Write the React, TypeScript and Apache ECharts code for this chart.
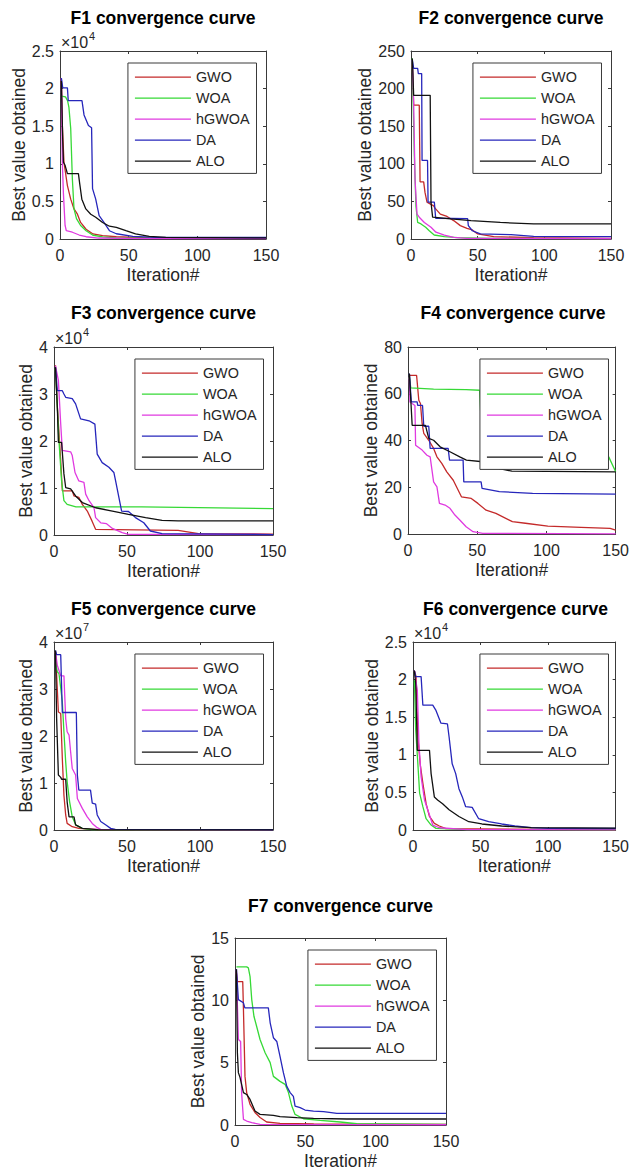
import React, { useEffect, useRef } from 'react';
import * as echarts from 'echarts';

// ---------- DATA ----------
const ALGORITHMS = ['GWO', 'WOA', 'hGWOA', 'DA', 'ALO'];
const TITLES = [
  'F1 convergence curve', 'F2 convergence curve', 'F3 convergence curve', 'F4 convergence curve',
  'F5 convergence curve', 'F6 convergence curve', 'F7 convergence curve',
];
const X_MAX = 150;
const X_INTERVAL = 50;
const Y_MAX = [2.5, 250, 4, 80, 4, 2.5, 15];
const Y_INTERVAL = [0.5, 50, 1, 20, 1, 0.5, 5];
const Y_EXPONENT = ['4', '', '4', '', '7', '4', ''];
const X_NAME = 'Iteration#';
const Y_NAME = 'Best value obtained';

// F1 (x1e4)
const F1_GWO = [[1, 2.13], [1.7, 1.51], [2.9, 1.02], [5.4, 0.71], [7.8, 0.53], [10.2, 0.4], [12.7, 0.33], [15, 0.22], [19, 0.13], [24, 0.067], [31, 0.044], [41, 0.03], [65, 0.013], [150, 0.01]];
const F1_WOA = [[1, 1.9], [4, 1.89], [5.5, 1.84], [6.5, 1.75], [7.8, 1.47], [9, 0.8], [10.2, 0.4], [12, 0.27], [15, 0.18], [19, 0.11], [24, 0.05], [31, 0.027], [41, 0.013], [150, 0.008]];
const F1_HGWOA = [[1, 2.14], [1.7, 1.02], [2.5, 0.6], [3.7, 0.18], [4.6, 0.11], [9, 0.09], [14, 0.053], [19, 0.03], [28, 0.013], [60, 0.006], [150, 0.004]];
const F1_DA = [[1, 2.14], [2, 2.01], [5.4, 2.01], [6, 1.84], [16, 1.84], [17.5, 1.65], [20.7, 1.51], [23, 1.48], [23.7, 0.67], [26, 0.53], [28.5, 0.31], [32, 0.22], [36, 0.11], [41, 0.07], [53, 0.035], [70, 0.022], [150, 0.02]];
const F1_ALO = [[1, 2.1], [2, 1.3], [2.5, 1.02], [3.7, 0.98], [5.4, 0.87], [13.4, 0.87], [14.4, 0.73], [15.9, 0.53], [18.8, 0.4], [22.4, 0.33], [26, 0.29], [31, 0.22], [36, 0.17], [41, 0.156], [48, 0.11], [55, 0.067], [65, 0.036], [77, 0.022], [150, 0.015]];

// F2
const F2_GWO = [[1, 232], [2, 178], [6.2, 178], [6.8, 76], [9.5, 76], [10.5, 62], [12, 49], [17, 44], [18, 41], [22, 33], [27, 30], [32, 24.5], [37, 17.8], [42, 14.2], [46, 12], [50, 6.7], [62, 3.1], [92, 1.8], [150, 0.9]];
const F2_WOA = [[1, 240], [2, 150], [2.5, 111], [3.7, 44], [5, 22], [7.5, 20], [11, 15.6], [13.7, 11], [17.4, 5.3], [25, 3.1], [35, 1.8], [60, 0.8], [150, 0.5]];
const F2_HGWOA = [[1, 238], [2, 180], [3, 80], [4.5, 33], [6.2, 29], [10, 22], [15, 15.6], [18.7, 9], [25, 5.3], [32, 2.2], [42, 0.9], [150, 0.3]];
const F2_DA = [[1, 238], [2, 227], [5, 227], [5.5, 220], [8, 220], [8.3, 104.5], [12.4, 104.5], [12.8, 49], [17.5, 49], [18.5, 27.6], [42.5, 27], [43, 17.8], [46, 11], [52, 6.7], [75, 5.8], [92, 3.6], [150, 3.1]];
const F2_ALO = [[1, 240], [2, 191], [14.4, 191], [15, 49], [16.2, 29], [30, 26.7], [45, 24.5], [67, 22], [92, 20], [150, 20]];

// F3 (x1e4)
const F3_GWO = [[1, 3.61], [2.3, 2.72], [4.6, 1.58], [5.7, 0.94], [12.5, 0.94], [13.7, 0.83], [17, 0.8], [19.4, 0.65], [22.8, 0.51], [26, 0.3], [28.5, 0.12], [85, 0.1], [99, 0.03], [150, 0.02]];
const F3_WOA = [[1, 3.54], [3.4, 2.0], [5.2, 1.15], [6.8, 0.73], [9, 0.65], [15, 0.6], [60, 0.6], [150, 0.56]];
const F3_HGWOA = [[1, 3.6], [3, 3.29], [4.6, 2.36], [5.7, 1.8], [11.4, 1.77], [12.5, 1.69], [14.4, 1.33], [17, 1.15], [20.5, 1.12], [21.7, 0.87], [24, 0.73], [27.4, 0.58], [28.5, 0.37], [32, 0.26], [36, 0.24], [40, 0.14], [46.7, 0.05], [51, 0.014], [150, 0.01]];
const F3_DA = [[1, 3.57], [2.3, 3.07], [5.7, 3.07], [6.8, 3.0], [8, 2.93], [12.5, 2.9], [14.8, 2.79], [18.2, 2.47], [24, 2.43], [28, 2.36], [29.6, 1.72], [33, 1.54], [37.6, 1.44], [41, 1.33], [42.2, 1.15], [46.3, 0.51], [51, 0.5], [55.8, 0.37], [61.5, 0.26], [66, 0.085], [74, 0.03], [150, 0.01]];
const F3_ALO = [[1, 3.57], [2.3, 2.72], [3, 1.97], [5.2, 1.97], [6.8, 1.3], [8, 1.01], [11.4, 0.98], [14.8, 0.83], [19.4, 0.69], [28.5, 0.58], [40, 0.51], [51, 0.44], [62.7, 0.37], [74, 0.31], [85, 0.3], [150, 0.3]];

// F4
const F4_GWO = [[1, 67.9], [6.2, 67.9], [7.8, 57.2], [9, 55.8], [10.2, 47.3], [11.4, 43], [15, 40.1], [18.5, 36.6], [20.9, 33], [24.4, 30.2], [28, 26.6], [32.7, 23], [38.6, 15.9], [45.7, 15.2], [50.5, 13.1], [56.4, 10.2], [63.5, 8.8], [75.4, 5.3], [84.8, 4.6], [101, 3.4], [125, 2.85], [146, 2.4], [150, 1.7]];
const F4_WOA = [[1, 67], [2, 62.5], [18.5, 62], [42, 61.8], [51.7, 61.5], [52.5, 52], [60, 48], [100, 42], [140, 36], [145, 33], [150, 26.6]];
const F4_HGWOA = [[1, 67], [1.4, 56.5], [3, 55.8], [5, 55], [5.5, 38], [10.2, 35.9], [13.7, 33.7], [16, 33], [18.5, 22.3], [20.9, 20.2], [22.7, 13.1], [26.8, 12.4], [30.3, 11], [33.9, 8.1], [37.4, 6], [42, 3.1], [47, 1], [54, 0.3], [150, 0.05]];
const F4_DA = [[1, 68.6], [2.4, 56.5], [6.6, 56.5], [7, 55], [10.5, 55], [11.4, 46.1], [15, 46.1], [16, 36.6], [29, 36.6], [30, 31.6], [39.8, 31.6], [40.3, 22.3], [52.8, 22.3], [53.5, 19.5], [66, 18.1], [90, 17.4], [150, 17.1]];
const F4_ALO = [[1, 68.6], [3, 46.5], [12.6, 46.5], [15, 40.9], [18.5, 40.1], [23.2, 37.3], [30.3, 35.2], [37.4, 33], [42.2, 31.6], [54, 30.9], [60, 29], [66, 28], [75, 26.9], [150, 26.6]];

// F5 (x1e7)
const F5_GWO = [[1, 3.79], [1.6, 3.43], [3, 2.51], [4.6, 2.48], [5.7, 1.52], [6.8, 0.74], [8, 0.32], [9, 0.14], [12.5, 0.07], [17, 0.035], [30, 0.01], [150, 0.002]];
const F5_WOA = [[1, 3.58], [2.3, 3.36], [3.4, 3.33], [5.7, 2.73], [6.8, 2.09], [8, 1.45], [9, 1.03], [10.7, 0.6], [12.5, 0.28], [14.8, 0.11], [19.4, 0.035], [26, 0.007], [150, 0.001]];
const F5_HGWOA = [[1, 3.79], [2.3, 3.5], [4.6, 3.28], [6.8, 3.28], [8, 2.37], [9, 2.09], [10.3, 2.02], [11.4, 1.66], [12.5, 1.31], [14.8, 1.17], [16, 0.67], [19.4, 0.46], [22.8, 0.28], [26.2, 0.14], [29.6, 0.05], [32, 0.014], [150, 0.003]];
const F5_DA = [[1, 3.82], [1.8, 3.73], [4.6, 3.73], [5.7, 2.5], [15.3, 2.5], [16, 1.17], [17, 0.85], [25, 0.85], [26.2, 0.57], [28.5, 0.55], [29.6, 0.32], [32, 0.18], [35.3, 0.11], [38.8, 0.035], [42, 0.014], [150, 0.005]];
const F5_ALO = [[1, 3.82], [1.8, 2.37], [3, 1.17], [4.6, 1.12], [5.2, 1.08], [8, 1.08], [9, 0.6], [10.3, 0.28], [13.7, 0.28], [14.8, 0.11], [19.4, 0.035], [30, 0.01], [150, 0.002]];

// F6 (x1e4)
const F6_GWO = [[1, 2.12], [2.3, 2.04], [3.6, 1.24], [5.3, 0.88], [7.3, 0.62], [9.7, 0.35], [12.2, 0.18], [15.8, 0.088], [19.5, 0.053], [24.3, 0.018], [150, 0.003]];
const F6_WOA = [[1, 1.99], [2, 1.33], [3.6, 0.88], [4.9, 0.49], [7.3, 0.31], [9.7, 0.15], [13.4, 0.066], [17, 0.022], [40, 0.005], [150, 0.002]];
const F6_HGWOA = [[1, 2.12], [3.2, 1.86], [4.4, 1.15], [6, 0.71], [8.5, 0.4], [12.2, 0.2], [14.6, 0.066], [19.5, 0.03], [40, 0.005], [150, 0.001]];
const F6_DA = [[1, 2.12], [2, 2.04], [6, 2.04], [7.3, 1.66], [14.6, 1.66], [17, 1.59], [20.7, 1.42], [25.5, 1.41], [26.7, 1.24], [29, 0.88], [31.6, 0.75], [34, 0.55], [36.5, 0.44], [39, 0.31], [43.8, 0.3], [48.6, 0.15], [56, 0.11], [65.6, 0.08], [75.4, 0.053], [87.5, 0.031], [100, 0.022], [150, 0.02]];
const F6_ALO = [[1, 2.12], [2, 1.95], [3.2, 1.06], [12.2, 1.06], [13.4, 0.75], [15.8, 0.44], [18.2, 0.4], [21.9, 0.35], [26.7, 0.27], [34, 0.18], [41.3, 0.11], [51, 0.08], [65.6, 0.053], [87.5, 0.031], [150, 0.025]];

// F7
const F7_GWO = [[1, 12.2], [1.7, 11.5], [5.5, 11.5], [6, 9.3], [7.1, 3.9], [8.3, 2.6], [10.7, 1.65], [14.2, 1.0], [17.8, 0.6], [22.5, 0.24], [32, 0.13], [56, 0.08], [150, 0.05]];
const F7_WOA = [[1, 12.68], [8.3, 12.68], [9.5, 12.6], [10.7, 11.9], [11.9, 10.06], [13.5, 8.7], [15.4, 7.9], [17.8, 6.86], [21.4, 5.8], [25, 5.0], [27.3, 3.9], [32, 3.5], [35.6, 3.26], [38, 2.6], [40.4, 1.52], [42.7, 0.85], [48.7, 0.5], [60.5, 0.37], [74.8, 0.24], [86.6, 0.1], [150, 0.05]];
const F7_HGWOA = [[1, 12.46], [2.4, 6.86], [4, 6.7], [4.7, 2.6], [6, 0.45], [8.3, 0.32], [11.9, 0.19], [17.8, 0.05], [150, 0.02]];
const F7_DA = [[1, 12.5], [2.4, 10.06], [6, 9.8], [7, 9.4], [23.7, 9.4], [25, 8.2], [27.3, 7.0], [29.7, 6.7], [32, 5.5], [34.4, 4.2], [36.8, 3.1], [39.2, 2.6], [41.5, 2.3], [42.7, 1.52], [46.3, 1.4], [49.8, 1.2], [55.8, 1.12], [63, 1.07], [72.4, 0.93], [150, 0.93]];
const F7_ALO = [[1, 12.5], [1.7, 5.8], [2.4, 4.2], [3.6, 3.8], [6, 2.6], [8.3, 2.45], [10.7, 2.05], [14.2, 1.12], [17.8, 0.85], [27.3, 0.77], [32, 0.67], [44, 0.59], [55.8, 0.53], [79.5, 0.48], [150, 0.48]];

const PANEL_DATA = [
  [F1_GWO, F1_WOA, F1_HGWOA, F1_DA, F1_ALO],
  [F2_GWO, F2_WOA, F2_HGWOA, F2_DA, F2_ALO],
  [F3_GWO, F3_WOA, F3_HGWOA, F3_DA, F3_ALO],
  [F4_GWO, F4_WOA, F4_HGWOA, F4_DA, F4_ALO],
  [F5_GWO, F5_WOA, F5_HGWOA, F5_DA, F5_ALO],
  [F6_GWO, F6_WOA, F6_HGWOA, F6_DA, F6_ALO],
  [F7_GWO, F7_WOA, F7_HGWOA, F7_DA, F7_ALO],
];

// ---------- STYLE / LAYOUT ----------
const W = 632;
const H = 1171;
const COLORS = ['#c42a2a', '#36d936', '#e03ae0', '#2626bb', '#111111'];
const FONT = '"Liberation Sans", Arial, Helvetica, sans-serif';
const TXT = '#262626';
const AXC = '#3a3a3a';
const LINE_W = 1.3;
const GRIDS = [
  { left: 60, top: 51, width: 206, height: 188 },
  { left: 411, top: 51, width: 200, height: 188 },
  { left: 54, top: 347, width: 219, height: 188 },
  { left: 408, top: 347, width: 210, height: 187 },
  { left: 54, top: 642, width: 219, height: 188 },
  { left: 413, top: 642, width: 205, height: 188 },
  { left: 235, top: 938, width: 211, height: 188 },
];
const Y_NAME_GAP = [28, 34, 16, 24, 16, 30, 24];
const TITLE_Y = [18, 18, 313, 313, 609, 609, 906];

function buildOption() {
  const grid: any[] = [];
  const xAxis: any[] = [];
  const yAxis: any[] = [];
  const series: any[] = [];
  const legend: any[] = [];
  const graphic: any[] = [];
  const axisLine = { show: true, onZero: false, lineStyle: { color: AXC, width: 1 } };
  const tick = { show: true, inside: true, length: 3, lineStyle: { color: AXC, width: 1 } };

  GRIDS.forEach((g, i) => {
    grid.push({ ...g, containLabel: false, show: false });
    xAxis.push({
      gridIndex: i, type: 'value', min: 0, max: X_MAX, interval: X_INTERVAL, position: 'bottom',
      axisLine, axisTick: tick, splitLine: { show: false },
      axisLabel: { fontSize: 16, color: TXT, fontFamily: FONT, margin: 8 },
      name: X_NAME, nameLocation: 'middle', nameGap: 27,
      nameTextStyle: { fontSize: 17.5, color: TXT, fontFamily: FONT },
    });
    xAxis.push({
      gridIndex: i, type: 'value', min: 0, max: X_MAX, interval: X_INTERVAL, position: 'top',
      axisLine, axisTick: tick, splitLine: { show: false }, axisLabel: { show: false },
    });
    yAxis.push({
      gridIndex: i, type: 'value', min: 0, max: Y_MAX[i], interval: Y_INTERVAL[i], position: 'left',
      axisLine, axisTick: tick, splitLine: { show: false },
      axisLabel: { fontSize: 16, color: TXT, fontFamily: FONT, margin: 6 },
      name: Y_NAME, nameLocation: 'middle', nameGap: Y_NAME_GAP[i],
      nameTextStyle: { fontSize: 17.5, color: TXT, fontFamily: FONT },
    });
    yAxis.push({
      gridIndex: i, type: 'value', min: 0, max: Y_MAX[i], interval: Y_INTERVAL[i], position: 'right',
      axisLine, axisTick: tick, splitLine: { show: false }, axisLabel: { show: false },
    });
    PANEL_DATA[i].forEach((d, k) => {
      series.push({
        type: 'line', name: ALGORITHMS[k], xAxisIndex: 2 * i, yAxisIndex: 2 * i,
        data: d, symbol: 'none', showSymbol: false, smooth: false, clip: true, z: 2,
        lineStyle: { color: COLORS[k], width: LINE_W }, itemStyle: { color: COLORS[k] },
      });
    });
    legend.push({
      data: ALGORITHMS.map((n) => ({ name: n, icon: 'rect' })), orient: 'vertical',
      right: W - (g.left + g.width) + 9.5, top: g.top + 12,
      padding: [7, 7, 5, 7], itemWidth: 56, itemHeight: LINE_W, itemGap: 6.6,
      backgroundColor: '#ffffff', borderColor: AXC, borderWidth: 1, borderRadius: 0,
      textStyle: { fontSize: 14.4, color: TXT, fontFamily: FONT, lineHeight: 14.4 },
      selectedMode: false, z: 20,
    });
    graphic.push({
      type: 'text', x: g.left + g.width / 2, y: TITLE_Y[i], z: 30,
      style: {
        text: TITLES[i], font: `bold 17.5px ${FONT}`, fill: '#000',
        textAlign: 'center', textVerticalAlign: 'middle', align: 'center', verticalAlign: 'middle',
      },
    });
    if (Y_EXPONENT[i]) {
      graphic.push({
        type: 'text', x: g.left + 1, y: g.top - 9, z: 30,
        style: {
          text: '×10', font: `16px ${FONT}`, fill: TXT,
          textAlign: 'left', textVerticalAlign: 'middle', align: 'left', verticalAlign: 'middle',
        },
      });
      graphic.push({
        type: 'text', x: g.left + 29, y: g.top - 15, z: 30,
        style: {
          text: Y_EXPONENT[i], font: `11px ${FONT}`, fill: TXT,
          textAlign: 'left', textVerticalAlign: 'middle', align: 'left', verticalAlign: 'middle',
        },
      });
    }
  });

  return {
    animation: false,
    backgroundColor: '#ffffff',
    textStyle: { fontFamily: FONT },
    grid, xAxis, yAxis, series, legend, graphic,
  };
}

export default function App() {
  const ref = useRef<HTMLDivElement>(null);
  useEffect(() => {
    if (!ref.current) return;
    const chart = echarts.init(ref.current, undefined, { renderer: 'svg', width: W, height: H });
    chart.setOption(buildOption());
    return () => chart.dispose();
  }, []);
  return (
    <div
      ref={ref}
      style={{ position: 'absolute', left: 0, top: 0, width: W, height: H, background: '#fff' }}
    />
  );
}
